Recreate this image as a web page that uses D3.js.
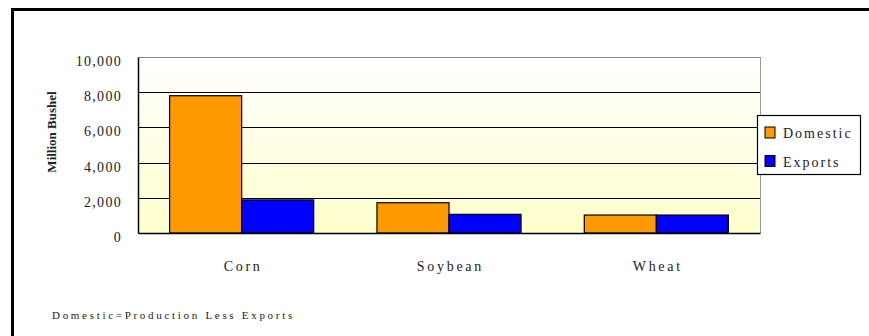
<!DOCTYPE html>
<html>
<head>
<meta charset="utf-8">
<script src="https://cdn.jsdelivr.net/npm/d3@7"></script>
<style>
  body { margin: 0; background: #fff; }
  svg { display: block; font-family: "Liberation Serif", "Times New Roman", serif; }
</style>
</head>
<body>
<svg id="chart" width="869" height="336"></svg>
<script>
const categories = ["Corn", "Soybean", "Wheat"];
const seriesNames = ["Domestic", "Exports"];
const domestic = [7800, 1720, 1020];
const exportsVals = [1880, 1060, 1020];
const yTicks = [0, 2000, 4000, 6000, 8000, 10000];
const seriesColors = ["#FF9900", "#0000FF"];

const serif = "Liberation Serif, Times New Roman, serif";
const svg = d3.select("#chart");
const plot = { left: 138, top: 57, right: 760, bottom: 233 };

// outer frame (right and bottom edges run off the page)
svg.append("rect")
    .attr("x", 12.5).attr("y", 9.5)
    .attr("width", 870).attr("height", 340)
    .attr("fill", "none").attr("stroke", "#000").attr("stroke-width", 3);

const defs = svg.append("defs");
const grad = defs.append("linearGradient")
    .attr("id", "bg").attr("x1", 0).attr("y1", 0).attr("x2", 0).attr("y2", 1);
grad.append("stop").attr("offset", "0%").attr("stop-color", "#FFFFFF");
grad.append("stop").attr("offset", "100%").attr("stop-color", "#FFFFCC");

const x = d3.scaleBand().domain(categories).range([plot.left, plot.right]).padding(0);
const gap = x.bandwidth() * 0.305;
const xs = d3.scaleBand().domain(seriesNames).range([gap / 2, x.bandwidth() - gap / 2]);
const y = d3.scaleLinear().domain([0, 10000]).range([plot.bottom, plot.top]);

svg.append("rect")
    .attr("x", plot.left).attr("y", plot.top)
    .attr("width", plot.right - plot.left).attr("height", plot.bottom - plot.top)
    .attr("fill", "url(#bg)");

// gridlines
svg.append("g").selectAll("line")
    .data(yTicks.filter(t => t > 0 && t < 10000))
    .enter().append("line")
    .attr("x1", plot.left).attr("x2", plot.right)
    .attr("y1", d => Math.round(y(d)) + 0.5).attr("y2", d => Math.round(y(d)) + 0.5)
    .attr("stroke", "#000").attr("stroke-width", 1.2);

// plot border: grey top/right
svg.append("line").attr("x1", plot.left).attr("x2", plot.right)
    .attr("y1", plot.top + 0.5).attr("y2", plot.top + 0.5).attr("stroke", "#888");
svg.append("line").attr("x1", plot.right + 0.5).attr("x2", plot.right + 0.5)
    .attr("y1", plot.top).attr("y2", plot.bottom).attr("stroke", "#999");

// bars
const rows = categories.map((c, i) => ({ cat: c, vals: [domestic[i], exportsVals[i]] }));
const groups = svg.append("g").selectAll("g")
    .data(rows).enter().append("g")
    .attr("transform", d => `translate(${x(d.cat)},0)`);
groups.selectAll("rect")
    .data(d => d.vals.map((v, j) => ({ name: seriesNames[j], v, j })))
    .enter().append("rect")
    .attr("x", d => xs(d.name))
    .attr("y", d => y(d.v))
    .attr("width", xs.bandwidth())
    .attr("height", d => y(0) - y(d.v))
    .attr("fill", d => seriesColors[d.j])
    .attr("stroke", "#000").attr("stroke-width", 1.2);

// axes
const yAxis = svg.append("g")
    .attr("transform", `translate(${plot.left},0)`)
    .call(d3.axisLeft(y).tickValues(yTicks).tickSize(0).tickPadding(16).tickFormat(d3.format(",")));
yAxis.attr("font-family", serif);
yAxis.select(".domain").attr("stroke", "#000").attr("stroke-width", 1.5);
yAxis.selectAll("text")
    .attr("font-size", 14).attr("letter-spacing", "1.3px")
    .attr("fill", "#222").attr("dy", "0.6em");

const xAxis = svg.append("g")
    .attr("transform", `translate(0,${plot.bottom})`)
    .call(d3.axisBottom(x).tickSize(0).tickPadding(28));
xAxis.attr("font-family", serif);
xAxis.select(".domain").attr("stroke", "#000").attr("stroke-width", 1.5);
xAxis.selectAll("text")
    .attr("font-size", 14).attr("letter-spacing", "2.7px").attr("dx", 1.4)
    .attr("fill", "#222");

// axis title
svg.append("text")
    .attr("transform", "translate(51,132) rotate(-90)")
    .attr("text-anchor", "middle").attr("dy", "0.35em")
    .attr("font-size", 13).attr("font-weight", "bold").attr("fill", "#222")
    .text("Million Bushel");

// legend
const legend = svg.append("g").attr("transform", "translate(757,115)");
legend.append("rect")
    .attr("x", 0.5).attr("y", 0.5).attr("width", 103).attr("height", 59)
    .attr("fill", "#fff").attr("stroke", "#000").attr("stroke-width", 1.2);
const li = legend.selectAll("g.item")
    .data(seriesNames).enter().append("g").attr("class", "item")
    .attr("transform", (d, i) => `translate(8,${12 + i * 28.5})`);
li.append("rect")
    .attr("width", 10).attr("height", 11)
    .attr("fill", (d, i) => seriesColors[i])
    .attr("stroke", "#000").attr("stroke-width", 1);
li.append("text")
    .attr("x", 18).attr("y", 11)
    .attr("font-size", 14).attr("letter-spacing", "2px").attr("fill", "#222")
    .text(d => d);

// footnote
svg.append("text")
    .attr("x", 52).attr("y", 319)
    .attr("font-size", 11).attr("letter-spacing", "2.7px").attr("fill", "#222")
    .text("Domestic=Production Less Exports");
</script>
</body>
</html>
